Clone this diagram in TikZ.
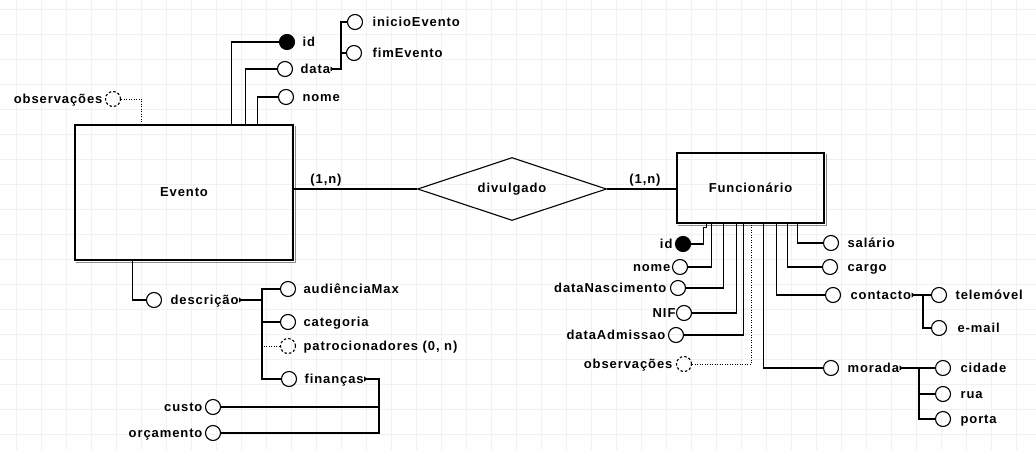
\documentclass[tikz,border=0pt]{standalone}
\usepackage{fontspec}
\setmainfont{Liberation Sans}
\newfontfamily\erfam{Liberation Sans}[LetterSpace=7.0]
\usetikzlibrary{shapes.geometric,arrows.meta}
\definecolor{gridc}{RGB}{236,242,248}
\definecolor{shadc}{RGB}{140,140,140}
\newcommand\erfont{\erfam\bfseries\fontsize{13}{15}\selectfont}
\begin{document}
\begin{tikzpicture}[x=1pt,y=-1pt, line width=1.1pt,
  ent/.style={draw, rectangle, line width=1.1pt, font=\erfont},
  attr/.style={circle, draw, minimum size=15pt, inner sep=0pt, line width=1.1pt},
  keyattr/.style={attr, fill=black},
  optattr/.style={attr, dash pattern=on 2.5pt off 2pt},
  txt/.style={font=\erfont, inner sep=0pt, text height=9.3pt, text depth=0pt},
  opt/.style={line width=1pt, dash pattern=on 1pt off 1.5pt},
  mk/.style={{Triangle[length=3pt,width=5pt,reversed]}-},
  shd/.style={shadc, line width=1.1pt}
]
\useasboundingbox (0,0) rectangle (1036,450);
\fill[white] (0,0) rectangle (1036,450);
\foreach \i in {0,...,40} \draw[gridc, line width=0.9pt] ({16.7+25*\i},0) -- ({16.7+25*\i},450);
\foreach \j in {0,...,17} \draw[gridc, line width=0.9pt] (0,{9.3+25*\j}) -- (1036,{9.3+25*\j});

% entities and relationship
\node[ent, minimum width=218pt, minimum height=135pt] (ev) at (184,192.5) {Evento};
\node[ent, minimum width=147pt, minimum height=70pt] (fu) at (750.5,188) {Funcionário};
\draw[shd] ([shift={(2,2)}]ev.north east) -- ([shift={(2,2)}]ev.south east) -- ([shift={(2,2)}]ev.south west);
\draw[shd] ([shift={(2,2)}]fu.north east) -- ([shift={(2,2)}]fu.south east) -- ([shift={(2,2)}]fu.south west);
\node[draw, diamond, aspect=3, minimum width=189pt, minimum height=63pt, inner sep=0pt, font=\erfont, line width=1.1pt] (div) at (512,189) {divulgado};
\draw (ev.east |- div.west) -- (div.west);
\draw (div.east) -- (fu.west |- div.east);
\node[txt] (c1) at (326,179) {(1,n)};
\node[txt] (c2) at (645,179) {(1,n)};

% Evento top attributes
\node[keyattr] (id1) at (287,42) {};
\node[txt, anchor=west] (id1l) at (302,42) {id};
\node[attr] (data1) at (285,69) {};
\node[txt, anchor=west] (data1l) at (300,69) {data};
\node[attr] (nome1) at (286,97) {};
\node[txt, anchor=west] (nome1l) at (302,97) {nome};
\node[attr] (ini) at (355,22) {};
\node[txt, anchor=west] (inil) at (372,22) {inicioEvento};
\node[attr] (fim) at (354,53) {};
\node[txt, anchor=west] (fiml) at (372,53) {fimEvento};
\coordinate (dj) at (341,69);
\draw[mk] (data1l.east) -- (dj) |- (ini.west);
\draw (fim.west) -- (fim.west -| dj);
\draw (id1.west) -| ([xshift=157pt]ev.north west);
\draw (data1.west) -| ([xshift=171pt]ev.north west);
\draw (nome1.west) -| ([xshift=183pt]ev.north west);
\node[optattr] (obs1) at (113,99) {};
\node[txt, anchor=east] (obs1l) at (103,99) {observações};
\draw[opt] (obs1.east) -| ([xshift=67pt]ev.north west);

% Evento bottom attributes
\node[attr] (desc) at (154,300) {};
\node[txt, anchor=west] (descl) at (170,300) {descrição};
\draw ([xshift=58pt]ev.south west) |- (desc.west);
\coordinate (dsj) at (262,300);
\draw[mk] (descl.east) -- (dsj);
\node[attr] (aud) at (288,289) {};
\node[txt, anchor=west] (audl) at (303,289) {audiênciaMax};
\node[attr] (cat) at (288,322) {};
\node[txt, anchor=west] (catl) at (303,322) {categoria};
\node[optattr] (pat) at (288,346) {};
\node[txt, anchor=west] (patl) at (303,346) {patrocionadores (0, n)};
\node[attr] (fin) at (289,379) {};
\node[txt, anchor=west] (finl) at (304,379) {finanças};
\draw (aud.west) -| (dsj |- fin.west) -- (fin.west);
\draw (cat.west) -- (cat.west -| dsj);
\draw[opt] (pat.west) -- (pat.west -| dsj);
\node[attr] (custo) at (213,407) {};
\node[txt, anchor=east] (custol) at (203,407) {custo};
\node[attr] (orc) at (213,433) {};
\node[txt, anchor=east] (orcl) at (203,433) {orçamento};
\coordinate (fj) at (379,379);
\draw[mk] (finl.east) -- (fj) |- (orc.east);
\draw (custo.east) -- (custo.east -| fj);

% Funcionario left attributes
\node[keyattr] (idF) at (683,244) {};
\node[txt, anchor=east] (idFl) at (673,244) {id};
\node[attr] (nomeF) at (680,267) {};
\node[txt, anchor=east] (nomeFl) at (671,267) {nome};
\node[attr] (dnF) at (678,288) {};
\node[txt, anchor=east] (dnFl) at (667,288) {dataNascimento};
\node[attr] (nifF) at (684,313) {};
\node[txt, anchor=east] (nifFl) at (676,313) {NIF};
\node[attr] (daF) at (676,335) {};
\node[txt, anchor=east] (daFl) at (666,335) {dataAdmissao};
\node[optattr] (obsF) at (684,364) {};
\node[txt, anchor=east] (obsFl) at (673,364) {observações};
\draw (idF.east) -| ([xshift=27pt,yshift=-4pt]fu.south west) -| ([xshift=30pt]fu.south west);
\draw (nomeF.east) -| ([xshift=35pt]fu.south west);
\draw (dnF.east) -| ([xshift=47pt]fu.south west);
\draw (nifF.east) -| ([xshift=60pt]fu.south west);
\draw (daF.east) -| ([xshift=67pt]fu.south west);
\draw[opt] (obsF.east) -| ([xshift=75pt]fu.south west);

% Funcionario right attributes
\node[attr] (salF) at (831,243) {};
\node[txt, anchor=west] (salFl) at (847,243) {salário};
\node[attr] (carF) at (830,267) {};
\node[txt, anchor=west] (carFl) at (847,267) {cargo};
\node[attr] (conF) at (833,295) {};
\node[txt, anchor=west] (conFl) at (850,295) {contacto};
\node[attr] (morF) at (831,368) {};
\node[txt, anchor=west] (morFl) at (847,368) {morada};
\draw (salF.west) -| ([xshift=121pt]fu.south west);
\draw (carF.west) -| ([xshift=111pt]fu.south west);
\draw (conF.west) -| ([xshift=100pt]fu.south west);
\draw (morF.west) -| ([xshift=87pt]fu.south west);

\node[attr] (tel) at (939,295) {};
\node[txt, anchor=west] (tell) at (955,295) {telemóvel};
\node[attr] (email) at (939,328) {};
\node[txt, anchor=west] (emaill) at (957,328) {e-mail};
\coordinate (cj) at (923,295);
\draw[mk] (conFl.east) -- (cj) -- (tel.west);
\draw (cj) |- (email.west);

\node[attr] (cid) at (943,368) {};
\node[txt, anchor=west] (cidl) at (960,368) {cidade};
\node[attr] (rua) at (943,394) {};
\node[txt, anchor=west] (rual) at (960,394) {rua};
\node[attr] (porta) at (943,419) {};
\node[txt, anchor=west] (portal) at (960,419) {porta};
\coordinate (mj) at (919,368);
\draw[mk] (morFl.east) -- (mj) -- (cid.west);
\draw (mj) |- (porta.west);
\draw (rua.west) -- (rua.west -| mj);
\end{tikzpicture}
\end{document}
